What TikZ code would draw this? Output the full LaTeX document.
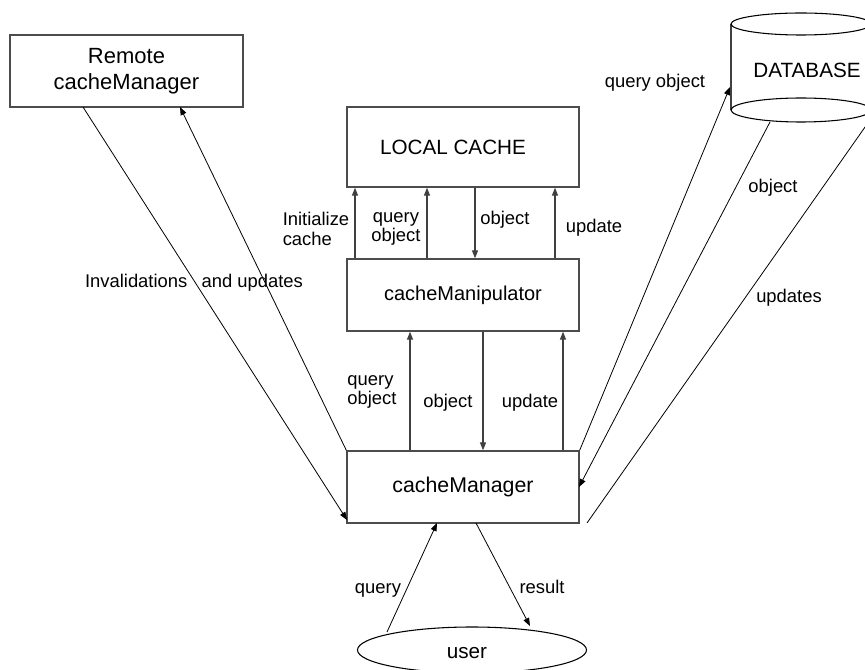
\documentclass[tikz,border=0pt]{standalone}
\usepackage{fontspec}
\setmainfont{Liberation Sans}
\usetikzlibrary{arrows.meta,shapes.geometric}
\begin{document}
\begin{tikzpicture}[x=0.75pt,y=-0.75pt,
  boxnode/.style={draw=black!70,line width=1pt,rectangle,inner sep=0pt,minimum width=174pt,font=\fontsize{15.5}{17}\selectfont,align=center},
  lbl/.style={inner sep=0pt,font=\fontsize{13.8}{14.6}\selectfont},
  varr/.style={draw=black!75,line width=0.9pt,-{Triangle[length=6pt,width=4.5pt]}},
  dline/.style={draw=black,line width=0.6pt},
  darr/.style={dline,-{Triangle[length=6pt,width=4.5pt]}}]
\useasboundingbox (0,0) rectangle (865,670);
\clip (0,0) rectangle (865,670);
% boxes
\node[boxnode,minimum width=174.75pt,minimum height=54pt,font=\fontsize{16.5}{19.5}\selectfont] (remote) at (126.5,71) {Remote\\cacheManager};
\node[boxnode,minimum height=60pt] (lc) at (463,147) {\hspace*{-15pt}LOCAL CACHE};
\node[boxnode,minimum height=54pt,font=\fontsize{15}{17}\selectfont] (mp) at (463,295) {cacheManipulator};
\node[boxnode,minimum height=54pt,font=\fontsize{16}{17}\selectfont] (cm) at (463,487) {cacheManager};
\node[draw=black,line width=0.8pt,ellipse,inner sep=0pt,minimum width=171.75pt,minimum height=34.5pt] (user) at (472,650) {};
\node[font=\fontsize{15.5}{17}\selectfont,inner sep=0pt] (usertext) at (467,653) {user};
% database cylinder
\draw[draw=black!75,line width=0.9pt] (731,24) -- (731,110);
\draw[line width=0.8pt] (801,24) ellipse [x radius=70, y radius=11];
\draw[line width=0.8pt] (801,110) ellipse [x radius=70, y radius=12];
\node[font=\fontsize{15.5}{17}\selectfont,inner sep=0pt] (db) at (807,70) {DATABASE};
% anchor columns
\coordinate (c1) at (355,0);
\coordinate (c2) at (427,0);
\coordinate (c3) at (475,0);
\coordinate (c4) at (555,0);
\coordinate (d1) at (410,0);
\coordinate (d2) at (483,0);
\coordinate (d3) at (563,0);
% LOCAL CACHE <-> cacheManipulator
\draw[varr] (mp.north -| c1) -- (lc.south -| c1);
\draw[varr] (mp.north -| c2) -- (lc.south -| c2);
\draw[varr] (lc.south -| c3) -- (mp.north -| c3);
\draw[varr] (mp.north -| c4) -- (lc.south -| c4);
% cacheManipulator <-> cacheManager
\draw[varr] (cm.north -| d1) -- (mp.south -| d1);
\draw[varr] (mp.south -| d2) -- (cm.north -| d2);
\draw[varr] (cm.north -| d3) -- (mp.south -| d3);
% remote connectors
\coordinate (rA) at (83,107);
\coordinate (rB) at (180,107);
\coordinate (cmL) at (347,520);
\draw[darr] (rA) -- (cmL);
\draw[darr] (cm.north west) -- (rB);
% database connectors
\coordinate (dbq) at (730,87);
\coordinate (dbo) at (770,122);
\coordinate (dbu) at (877,110);
\coordinate (cmR) at (579,487);
\coordinate (cmU) at (587,523);
\draw[darr] (cm.north east) -- (dbq);
\draw[darr] (dbo) -- (cmR);
\draw[dline] (dbu) -- (cmU);
% user connectors
\coordinate (uq) at (387,632);
\coordinate (cmq) at (437,523);
\coordinate (cmr) at (476,523);
\coordinate (ur) at (530,626);
\draw[darr] (uq) -- (cmq);
\draw[darr] (cmr) -- (ur);
% labels
\node[lbl] (l1) at (194,283) {Invalidations\hspace{0.5em} and updates};
\node[lbl] (l2) at (655,83) {query object};
\node[lbl] (l3) at (773,188) {object};
\node[lbl] (l4) at (789,298) {updates};
\node[lbl,align=left] (l5) at (316,229) {Initialize\\cache};
\node[lbl,align=center] (l6) at (396,229) {query\\object};
\node[lbl] (l7) at (505,220) {object};
\node[lbl] (l8) at (594,228) {update};
\node[lbl,align=left] (l9) at (372,392) {query\\object};
\node[lbl] (l10) at (448,403) {object};
\node[lbl] (l11) at (530,403) {update};
\node[lbl] (l12) at (378,590) {query};
\node[lbl] (l13) at (542,587) {result};
\end{tikzpicture}
\end{document}
